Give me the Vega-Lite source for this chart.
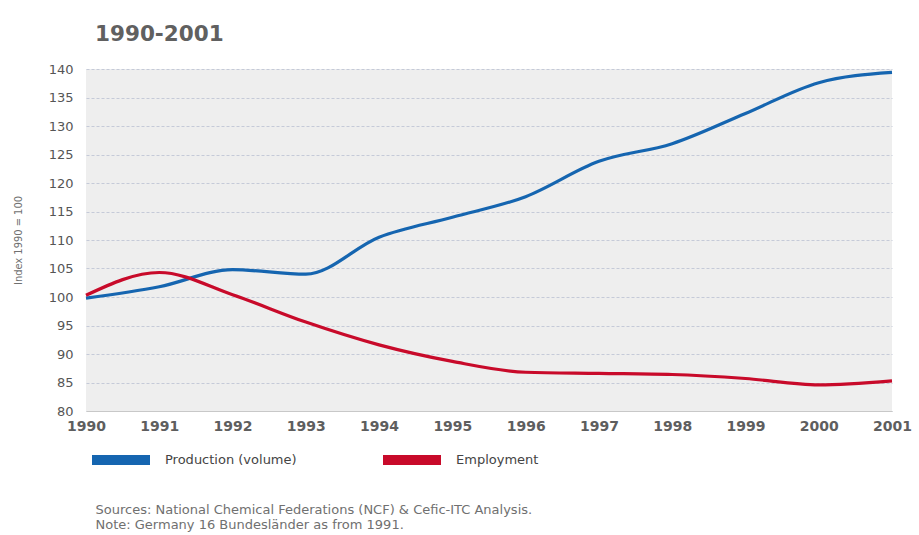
{
  "$schema": "https://vega.github.io/schema/vega-lite/v6.json",
  "width": 806,
  "height": 342,
  "autosize": "none",
  "padding": {"left": 86, "top": 69, "right": 27, "bottom": 124},
  "background": "white",
  "title": {
    "text": "1990-2001",
    "anchor": "start",
    "frame": "group",
    "dx": 9,
    "offset": 18,
    "font": "DejaVu Sans",
    "fontSize": 21.5,
    "fontWeight": "bold",
    "color": "#606060"
  },
  "data": {
    "values": [
      {"year": 1990, "series": "Production (volume)", "index": 99.8},
      {"year": 1991, "series": "Production (volume)", "index": 101.8},
      {"year": 1992, "series": "Production (volume)", "index": 104.8},
      {"year": 1993, "series": "Production (volume)", "index": 104.0},
      {"year": 1994, "series": "Production (volume)", "index": 110.5},
      {"year": 1995, "series": "Production (volume)", "index": 114.0},
      {"year": 1996, "series": "Production (volume)", "index": 117.6},
      {"year": 1997, "series": "Production (volume)", "index": 123.8},
      {"year": 1998, "series": "Production (volume)", "index": 126.9},
      {"year": 1999, "series": "Production (volume)", "index": 132.2},
      {"year": 2000, "series": "Production (volume)", "index": 137.6},
      {"year": 2001, "series": "Production (volume)", "index": 139.4},
      {"year": 1990, "series": "Employment", "index": 100.3},
      {"year": 1991, "series": "Employment", "index": 104.3},
      {"year": 1992, "series": "Employment", "index": 100.4},
      {"year": 1993, "series": "Employment", "index": 95.6},
      {"year": 1994, "series": "Employment", "index": 91.6},
      {"year": 1995, "series": "Employment", "index": 88.7},
      {"year": 1996, "series": "Employment", "index": 86.8},
      {"year": 1997, "series": "Employment", "index": 86.6},
      {"year": 1998, "series": "Employment", "index": 86.4},
      {"year": 1999, "series": "Employment", "index": 85.7},
      {"year": 2000, "series": "Employment", "index": 84.6},
      {"year": 2001, "series": "Employment", "index": 85.3}
    ]
  },
  "mark": {"type": "line", "interpolate": "monotone", "strokeWidth": 3.2},
  "encoding": {
    "x": {
      "field": "year",
      "type": "quantitative",
      "scale": {"domain": [1990, 2001], "nice": false, "zero": false},
      "axis": {
        "values": [1990, 1991, 1992, 1993, 1994, 1995, 1996, 1997, 1998, 1999, 2000, 2001],
        "format": "d",
        "grid": false,
        "ticks": false,
        "domain": true,
        "domainColor": "#c8c8c8",
        "domainWidth": 1,
        "labelFont": "DejaVu Sans",
        "labelFontSize": 14,
        "labelFontWeight": "bold",
        "labelColor": "#5e5e5e",
        "labelPadding": 8,
        "labelFlush": false,
        "labelAlign": "center",
        "title": ["Sources: National Chemical Federations (NCF) & Cefic-ITC Analysis.", "Note: Germany 16 Bundesländer as from 1991."],
        "titleFont": "DejaVu Sans",
        "titleFontSize": 13,
        "titleFontWeight": "normal",
        "titleColor": "#707070",
        "titleAnchor": "start",
        "titleAlign": "left",
        "titleBaseline": "alphabetic",
        "titleX": 9,
        "titleY": 102,
        "titleLineHeight": 15
      }
    },
    "y": {
      "field": "index",
      "type": "quantitative",
      "scale": {"domain": [80, 140], "nice": false, "zero": false},
      "axis": {
        "values": [80, 85, 90, 95, 100, 105, 110, 115, 120, 125, 130, 135, 140],
        "grid": true,
        "gridColor": "#c5cad8",
        "gridDash": [3, 2],
        "gridWidth": 1,
        "ticks": false,
        "domain": false,
        "labelFont": "DejaVu Sans",
        "labelFontSize": 13,
        "labelColor": "#555555",
        "labelPadding": 13,
        "title": "Index 1990 = 100",
        "titleFont": "DejaVu Sans Condensed, DejaVu Sans",
        "titleFontSize": 11,
        "titleFontWeight": "normal",
        "titleColor": "#707070",
        "titleX": -68,
        "titleY": 171,
        "titleAngle": -90,
        "titleAlign": "center",
        "titleBaseline": "middle"
      }
    },
    "color": {
      "field": "series",
      "type": "nominal",
      "scale": {"domain": ["Production (volume)", "Employment"], "range": ["#1565b0", "#c80a2a"]},
      "legend": {
        "title": null,
        "orient": "none",
        "direction": "horizontal",
        "columns": 2,
        "legendX": 1,
        "legendY": 357,
        "symbolType": "M-1,0H1",
        "symbolSize": 3364,
        "symbolStrokeWidth": 10,
        "symbolOpacity": 1,
        "labelFont": "DejaVu Sans",
        "labelFontSize": 13,
        "labelColor": "#444444",
        "labelOffset": 10,
        "columnPadding": 66
      }
    }
  },
  "config": {
    "view": {"fill": "#eeeeee", "stroke": null}
  }
}
